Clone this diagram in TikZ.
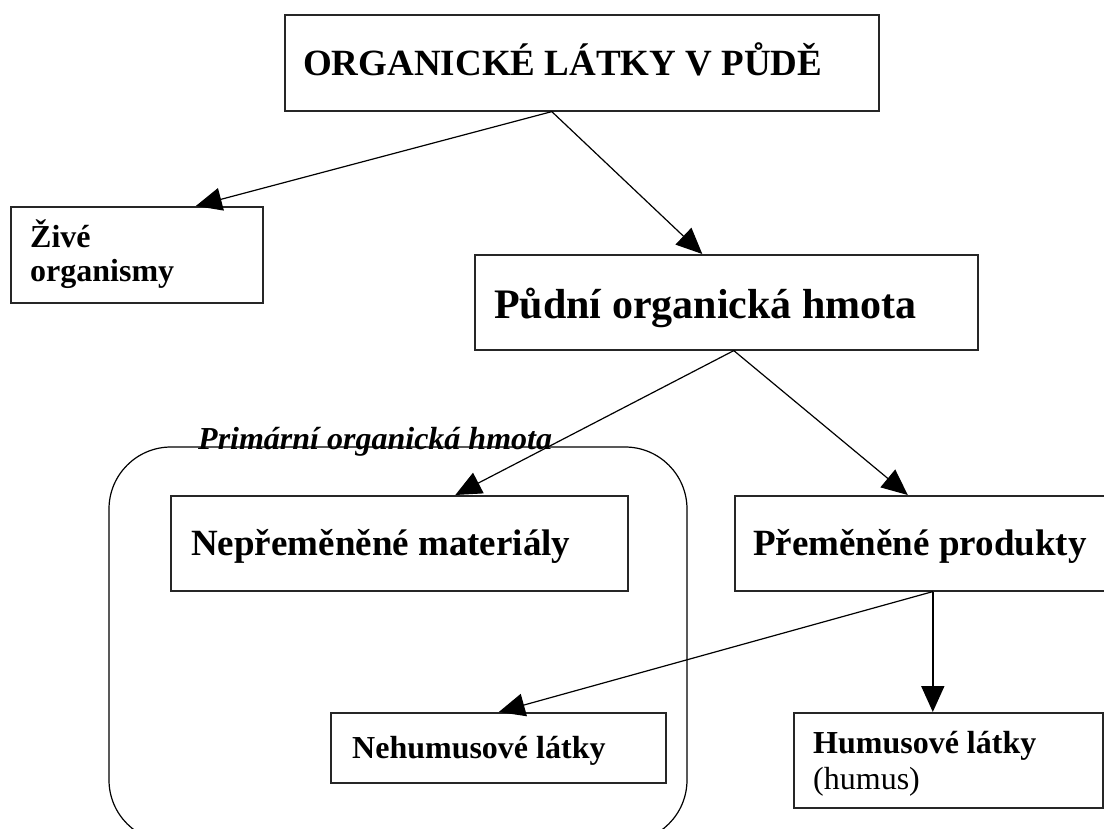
\documentclass[tikz,border=0pt]{standalone}
\usepackage{fontspec}
\setmainfont{Liberation Serif}
\usetikzlibrary{arrows.meta}
\begin{document}
\begin{tikzpicture}[x=1pt,y=-1pt,
  box/.style={draw, line width=1.6pt, draw=black!85, inner sep=0pt, anchor=north west},
  big/.style={anchor=base west, inner sep=0pt, font=\bfseries\fontsize{37}{44}\selectfont},
  huge/.style={anchor=base west, inner sep=0pt, font=\bfseries\fontsize{42}{48}\selectfont},
  small/.style={anchor=base west, inner sep=0pt, font=\bfseries\fontsize{32}{36}\selectfont},
  smallreg/.style={anchor=base west, inner sep=0pt, font=\fontsize{32}{36}\selectfont},
  arr/.style={line width=1.2pt, -{Triangle[length=26pt,width=23pt]}}]
\useasboundingbox (0,0) rectangle (1104,828);
\clip (0,0) rectangle (1104,828);
\fill[white] (0,0) rectangle (1104,828);
% group
\draw[line width=1.2pt, rounded corners=62pt] (109,447) rectangle (687,842);
\node[anchor=base west, inner sep=0pt, font=\bfseries\itshape\fontsize{32}{36}\selectfont] (grp) at (198,449) {Primární organická hmota};
% boxes
\node[box, minimum width=594pt, minimum height=96pt] (top) at (284,14) {};
\node[box, minimum width=252pt, minimum height=96pt] (zive) at (10,206) {};
\node[box, minimum width=503pt, minimum height=95pt] (pudni) at (474,254) {};
\node[box, minimum width=457pt, minimum height=95pt] (neprem) at (170,495) {};
\node[box, minimum width=380pt, minimum height=95pt] (prem) at (734,495) {};
\node[box, minimum width=335pt, minimum height=70pt] (nehum) at (330,712) {};
\node[box, minimum width=309pt, minimum height=95pt] (humus) at (793,712) {};
% texts
\node[big] (toptxt) at (303,75) {ORGANICKÉ LÁTKY V PŮDĚ};
\node[small] (zivetxt1) at (30,247) {Živé};
\node[small] (zivetxt2) at (30,281) {organismy};
\node[huge] (pudnitxt) at (494,318) {Půdní organická hmota};
\node[big] (nepremtxt) at (191,555) {Nepřeměněné materiály};
\node[big] (premtxt) at (753,555) {Přeměněné produkty};
\node[small] (nehumtxt) at (352,758) {Nehumusové látky};
\node[small] (humustxt1) at (813,753) {Humusové látky};
\node[smallreg] (humustxt2) at (813,789) {(humus)};
% connectors
\draw[arr] ([xshift=-30pt]top.south) -- ([xshift=59pt]zive.north);
\draw[arr] ([xshift=-30pt]top.south) -- ([xshift=-24pt]pudni.north);
\draw[arr] ([xshift=7.5pt]pudni.south) -- ([xshift=56pt]neprem.north);
\draw[arr] ([xshift=7.5pt]pudni.south) -- ([xshift=-17pt]prem.north);
\draw[arr] ([xshift=8pt]prem.south) -- ([xshift=0.5pt]nehum.north);
\draw[arr, line width=1.8pt] ([xshift=8pt]prem.south) -- ([xshift=-15.5pt]humus.north);
\end{tikzpicture}
\end{document}
